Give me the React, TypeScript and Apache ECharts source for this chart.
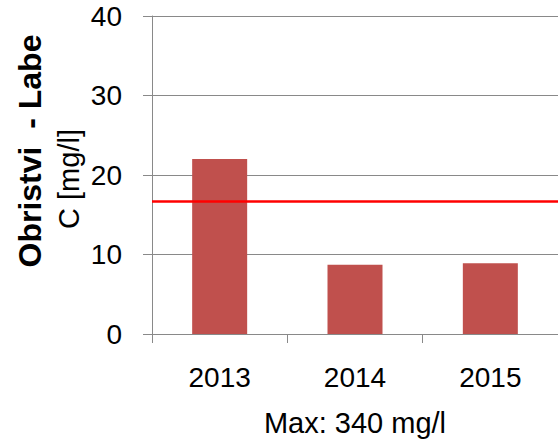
import React, { useEffect, useRef } from "react";
import * as echarts from "echarts";

const categories = ["2013", "2014", "2015"];
const values = [22.0, 8.7, 8.9];
const limitValue = 16.72;
const yTitle = "Obristvi  - Labe";
const yUnit = "C [mg/l]";
const xTitle = "Max: 340 mg/l";

export default function App() {
  const ref = useRef<HTMLDivElement>(null);
  useEffect(() => {
    if (!ref.current) return;
    const chart = echarts.init(ref.current, null, { renderer: "svg" });
    const font = "'Liberation Sans', Arial, sans-serif";
    const gray = "#898989";
    chart.setOption({
      animation: false,
      grid: { left: 152, top: 16, bottom: 105, right: -7, containLabel: false },
      xAxis: {
        type: "category",
        data: categories,
        name: xTitle,
        nameLocation: "middle",
        nameGap: 74,
        nameTextStyle: { fontFamily: font, fontSize: 29, color: "#000" },
        axisLine: { lineStyle: { color: gray, width: 1 } },
        axisTick: { show: true, length: 9, lineStyle: { color: gray } },
        axisLabel: { fontFamily: font, fontSize: 28, color: "#000", margin: 29 },
      },
      yAxis: {
        type: "value",
        min: 0,
        max: 40,
        interval: 10,
        axisLine: { show: true, lineStyle: { color: gray, width: 1 } },
        axisTick: { show: true, length: 9, lineStyle: { color: gray } },
        axisLabel: { fontFamily: font, fontSize: 28, color: "#000", margin: 30 },
        splitLine: { lineStyle: { color: gray, width: 1 } },
      },
      graphic: [
        {
          type: "text",
          x: 30,
          y: 151,
          rotation: Math.PI / 2,
          style: {
            text: yTitle,
            fontFamily: font,
            fontSize: 32,
            fontWeight: "bold",
            fill: "#000",
            textAlign: "center",
            textVerticalAlign: "middle",
          },
        },
        {
          type: "text",
          x: 69,
          y: 179,
          rotation: Math.PI / 2,
          style: {
            text: yUnit,
            fontFamily: font,
            fontSize: 29,
            fill: "#000",
            textAlign: "center",
            textVerticalAlign: "middle",
          },
        },
      ],
      series: [
        {
          type: "bar",
          data: values,
          barWidth: 55,
          itemStyle: { color: "#C0504D" },
          markLine: {
            silent: true,
            symbol: ["none", "none"],
            label: { show: false },
            lineStyle: { color: "#FF0000", width: 2.5, type: "solid" },
            data: [{ yAxis: limitValue }],
          },
        },
      ],
    });
    return () => chart.dispose();
  }, []);
  return (
    <div
      ref={ref}
      style={{ position: "fixed", left: 0, top: 0, width: 558, height: 442, background: "#fff" }}
    />
  );
}
